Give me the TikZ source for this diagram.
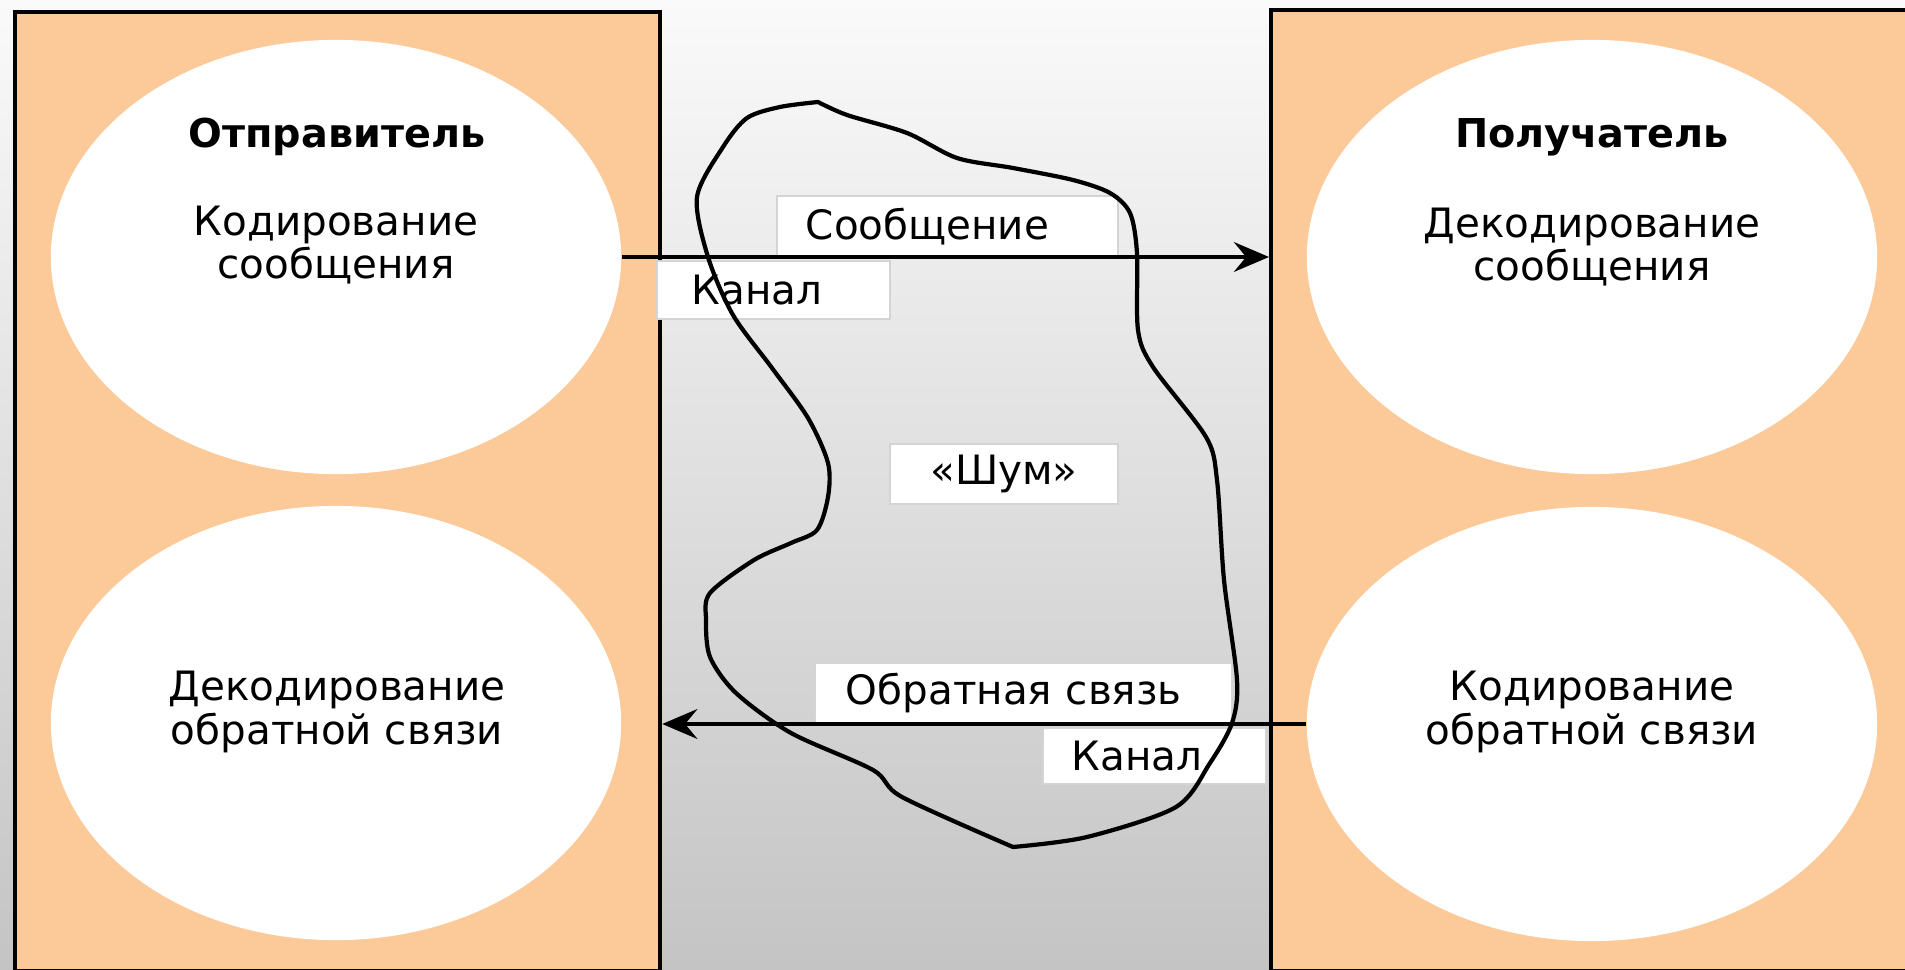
\documentclass[tikz,border=0pt]{standalone}
\usepackage{fontspec}
\setmainfont{DejaVu Sans}
\usetikzlibrary{shapes.geometric,arrows.meta}
\definecolor{peach}{RGB}{252,201,152}
\definecolor{bgtop}{RGB}{250,250,250}
\definecolor{bgbot}{RGB}{196,196,196}
\definecolor{lblline}{RGB}{212,212,212}
\begin{document}
\begin{tikzpicture}[x=0.01cm,y=-0.01cm,
  panel/.style={rectangle,draw=black,line width=1.1pt,fill=peach,anchor=north west,inner sep=0pt},
  circ/.style={ellipse,fill=white,minimum width=5.7cm,minimum height=4.34cm,inner sep=0pt},
  head/.style={font=\bfseries\fontsize{11.3pt}{12pt}\selectfont,inner sep=0pt},
  body/.style={font=\fontsize{11.5pt}{11pt}\selectfont,align=center,inner sep=0pt},
  lbl/.style={rectangle,draw=lblline,line width=0.5pt,fill=white,anchor=north west,
    font=\fontsize{11.5pt}{11pt}\selectfont,align=left,inner ysep=0pt},
  conn/.style={line width=1pt,-{Stealth[length=10pt,width=8.5pt,inset=3.5pt]}},
  noise/.style={line width=1.2pt,line join=round}
]
\useasboundingbox (0,0) rectangle (1905,970);
\shade[top color=bgtop,bottom color=bgbot] (0,0) rectangle (1905,970);

% side panels
\node[panel,minimum width=6.45cm,minimum height=9.58cm] (lpanel) at (13,10) {};
\node[panel,minimum width=6.6cm,minimum height=9.6cm] (rpanel) at (1269,8) {};

% circles
\node[circ] (s1) at (336,257) {};
\node[circ] (s2) at (336,723) {};
\node[circ] (r1) at (1592,257) {};
\node[circ] (r2) at (1592,724) {};

% circle texts
\node[head] (sname) at (337,137) {Отправитель};
\node[body] (senc) at (336,245) {Кодирование\\сообщения};
\node[head] (rname) at (1592,137) {Получатель};
\node[body] (rdec) at (1592,247) {Декодирование\\сообщения};
\node[body] (sdec) at (337,712) {Декодирование\\обратной связи};
\node[body] (renc) at (1592,712) {Кодирование\\обратной связи};

% label boxes
\node[lbl,minimum height=0.62cm,text width=2.83cm,inner xsep=0.29cm] (msg) at (776,195) {Сообщение};
\node[lbl,minimum height=0.58cm,text width=1.63cm,inner xsep=0.35cm] (ch1) at (656,260) {Канал};
\node[lbl,minimum height=0.60cm,minimum width=2.28cm,inner xsep=0pt,align=center] (nz) at (889,443) {«Шум»};
\node[lbl,minimum height=0.61cm,text width=3.55cm,inner xsep=0.31cm] (fb) at (814,662) {Обратная связь};
\node[lbl,minimum height=0.56cm,text width=1.65cm,inner xsep=0.29cm] (ch2) at (1042,727) {Канал};

% noise cloud
\draw[noise]
  plot[smooth,tension=0.5] coordinates {
    (818,102) (847,115) (907,133) (957,158) (1013,168) (1073,180) (1110,193)
    (1130,213) (1137,253) (1138,330) (1153,367) (1206,437) (1217,480)
    (1224,580) (1237,680) (1232,723) (1210,763) (1176,807) (1087,837) (1013,847)}
  -- plot[smooth,tension=0.5] coordinates {
    (1013,847) (902,797) (873,770) (791,733) (736,693) (710,657) (706,620)
    (710,593) (754,560) (791,543) (817,530) (828,497) (828,463) (808,418)
    (772,368) (733,315) (708,257) (697,197) (723,147) (747,118) (780,107) (818,102)}
  -- cycle;

% connectors
\draw[conn] (s1.east) -- (s1.east -| rpanel.west);
\draw[conn] (r2.west) -- (r2.west -| lpanel.east);
\end{tikzpicture}
\end{document}
